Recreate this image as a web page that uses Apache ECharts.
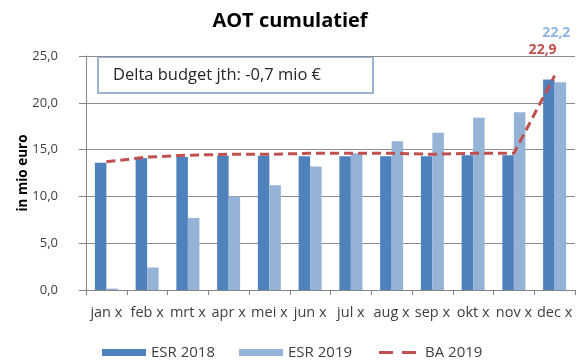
<!DOCTYPE html>
<html>
<head>
<meta charset="utf-8">
<script src="https://cdn.jsdelivr.net/npm/echarts@6/dist/echarts.min.js"></script>
<style>
  html, body { margin: 0; padding: 0; background: #fff; }
  #chart { width: 580px; height: 360px; }
</style>
</head>
<body>
<div id="chart"></div>
<script>
// Monthly categories and cumulative values (mio euro)
const months = ['jan x', 'feb x', 'mrt x', 'apr x', 'mei x', 'jun x', 'jul x', 'aug x', 'sep x', 'okt x', 'nov x', 'dec x'];
const esr2018 = [13.6, 14.1, 14.2, 14.35, 14.35, 14.3, 14.3, 14.3, 14.3, 14.4, 14.4, 22.5];
const esr2019 = [0.15, 2.4, 7.7, 10.0, 11.2, 13.2, 14.6, 15.9, 16.8, 18.4, 19.0, 22.2];
const ba2019 = [13.7, 14.2, 14.4, 14.5, 14.5, 14.6, 14.6, 14.6, 14.5, 14.6, 14.6, 22.9];
const yTicks = [0, 5, 10, 15, 20, 25];
const noteText = 'Delta budget jth: -0,7 mio €';

const FONT = 'Open Sans';
const fmt = v => v.toFixed(1).replace('.', ',');
const last = months.length - 1;

// two short dashes for the budget line in the legend (box 44 x 7)
const dashIcon = 'path://M0,0M44,7M3,2H17V5H3Z M26,2H40V5H26Z';

const chart = echarts.init(document.getElementById('chart'));
chart.setOption({
  animation: false,
  title: {
    text: 'AOT cumulatief',
    left: 'center',
    top: 6,
    textStyle: { fontFamily: FONT, fontSize: 20, fontWeight: 'bold', color: '#000' }
  },
  grid: { left: 86, right: 5, top: 56, bottom: 70 },
  legend: {
    top: 340,
    left: 97,
    itemWidth: 44,
    itemHeight: 7,
    itemGap: 24,
    textStyle: { fontFamily: FONT, fontSize: 15, color: '#404040' },
    data: [
      { name: 'ESR 2018', icon: 'rect' },
      { name: 'ESR 2019', icon: 'rect' },
      { name: 'BA 2019', icon: dashIcon, itemStyle: { color: '#c0504d', borderWidth: 0 }, lineStyle: { width: 0 } }
    ]
  },
  xAxis: {
    type: 'category',
    data: months,
    axisLine: { lineStyle: { color: '#868686', width: 1 } },
    axisTick: { show: true, length: 5, lineStyle: { color: '#868686' } },
    axisLabel: { fontFamily: FONT, fontSize: 14.5, color: '#404040', margin: 15, interval: 0 }
  },
  yAxis: {
    type: 'value',
    min: yTicks[0],
    max: yTicks[yTicks.length - 1],
    interval: yTicks[1] - yTicks[0],
    name: 'in mio euro',
    nameLocation: 'middle',
    nameGap: 56,
    nameMoveOverlap: false,
    nameTextStyle: { fontFamily: FONT, fontSize: 13.5, fontWeight: 'bold', color: '#000' },
    axisLine: { show: true, lineStyle: { color: '#868686', width: 1 } },
    axisTick: { show: true, inside: false, length: 7, lineStyle: { color: '#868686' } },
    axisLabel: { fontFamily: FONT, fontSize: 13, color: '#404040', margin: 28, formatter: v => fmt(v) },
    splitLine: { show: true, lineStyle: { color: '#8c8c8c', width: 1 } }
  },
  series: [
    {
      name: 'ESR 2018',
      type: 'bar',
      data: esr2018,
      barWidth: 11.5,
      barGap: '0%',
      itemStyle: { color: '#4f81bd' }
    },
    {
      name: 'ESR 2019',
      type: 'bar',
      data: esr2019.map((v, i) => i === last ? {
        value: v,
        label: {
          show: true, position: 'top', offset: [-4, -37],
          formatter: p => fmt(p.value),
          fontFamily: FONT, fontSize: 14, fontWeight: 'bold', color: '#8eb4e3'
        }
      } : v),
      barWidth: 11.5,
      barGap: '0%',
      itemStyle: { color: '#95b3d7' }
    },
    {
      name: 'BA 2019',
      type: 'line',
      data: ba2019.map((v, i) => i === last ? {
        value: v,
        label: {
          show: true, position: 'top', offset: [-12, -14],
          formatter: p => fmt(p.value),
          fontFamily: FONT, fontSize: 14, fontWeight: 'bold', color: '#c0504d'
        }
      } : v),
      symbol: 'circle',
      symbolSize: 0,
      showSymbol: true,
      z: 5,
      lineStyle: { color: '#c0504d', width: 3, type: [9, 5] },
      itemStyle: { color: '#c0504d' }
    }
  ],
  graphic: [
    {
      type: 'group',
      left: 97,
      top: 56,
      z: 10,
      children: [
        {
          type: 'rect',
          shape: { x: 0, y: 0, width: 275, height: 36 },
          style: { fill: '#fff', stroke: '#9bb2d1', lineWidth: 2 }
        },
        {
          type: 'text',
          x: 15,
          y: 18,
          style: {
            text: noteText,
            fontFamily: FONT,
            fontSize: 16.5,
            fill: '#262626',
            verticalAlign: 'middle'
          }
        }
      ]
    }
  ]
});
</script>
</body>
</html>
